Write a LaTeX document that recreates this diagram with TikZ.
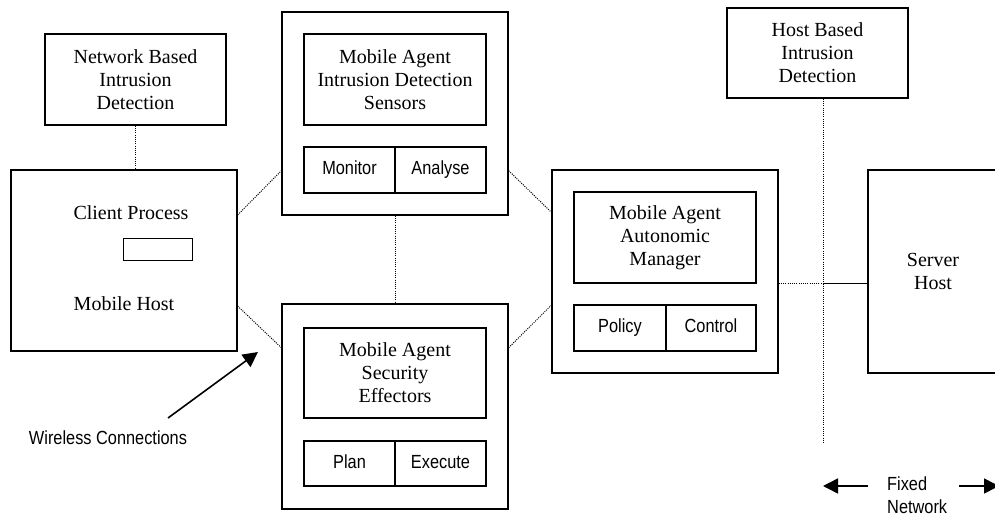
\documentclass[tikz,border=0pt]{standalone}
\usepackage{fontspec}
\setmainfont{Liberation Serif}
\newfontfamily\cellfont[FakeStretch=0.86]{Liberation Sans}
\usetikzlibrary{calc,arrows.meta}
\tikzset{
  txt/.style={inner sep=0pt, align=center, font=\fontsize{20}{23}\selectfont},
  box/.style={txt, draw, line width=1.4pt},
  cell/.style={draw, line width=1.4pt, inner sep=0pt, minimum height=46pt, text height=13.5pt, text depth=4pt, font=\cellfont\fontsize{19}{23}\selectfont},
  note/.style={inner sep=0pt, align=left, font=\cellfont\fontsize{19}{23}\selectfont},
  link/.style={line width=1pt, dash pattern=on 1pt off 1.2pt},
  bigarrow/.style={line width=1.6pt, -{Triangle[length=15pt,width=15pt]}}
}
\begin{document}
\begin{tikzpicture}[x=1pt, y=-1pt]
  \useasboundingbox (0,0) rectangle (995,517);
  \node[box, minimum width=181pt, minimum height=91pt] (nbid) at (135.5,79.5) {Network Based\\Intrusion\\Detection};
  \node[box, minimum width=226pt, minimum height=181pt] (mh) at (124,260.5) {};
  \node[txt] (cp) at (131,213) {Client Process};
  \node[draw, line width=1pt, minimum width=69pt, minimum height=22pt] (proc) at (157.5,249) {};
  \node[txt] (mhl) at (124,304) {Mobile Host};

  \node[box, minimum width=226pt, minimum height=203pt] (sens) at (395,113.5) {};
  \node[box, minimum width=182pt, minimum height=91pt] (sensin) at (395,79.5) {Mobile Agent\\Intrusion Detection\\Sensors};
  \node[cell, minimum width=91pt] (mon) at (349.5,170) {Monitor};
  \node[cell, minimum width=91pt] (ana) at (440.5,170) {Analyse};

  \node[box, minimum width=226pt, minimum height=205pt] (eff) at (395,406.5) {};
  \node[box, minimum width=182pt, minimum height=90pt] (effin) at (395,373) {Mobile Agent\\Security\\Effectors};
  \node[cell, minimum width=91pt, minimum height=45pt] (plan) at (349.5,463.5) {Plan};
  \node[cell, minimum width=91pt, minimum height=45pt] (exec) at (440.5,463.5) {Execute};

  \node[box, minimum width=226pt, minimum height=203pt] (mgr) at (665,271.5) {};
  \node[box, minimum width=182pt, minimum height=91pt] (mgrin) at (665,237.5) {Mobile Agent\\Autonomic\\Manager};
  \node[cell, minimum width=92pt] (pol) at (620,328) {Policy};
  \node[cell, minimum width=90pt] (ctl) at (711,328) {Control};

  \node[box, minimum width=181pt, minimum height=90pt] (hbid) at (817.5,53) {Host Based\\Intrusion\\Detection};
  \node[box, minimum width=130pt, minimum height=203pt] (srv) at (933,271.5) {Server\\Host};

  \draw[link] (nbid.south) -- (nbid.south |- mh.north);
  \draw[link] (sens.south) -- (eff.north);
  \draw[link] ($(mh.north east)!0.25!(mh.south east)$) -- ($(sens.north west)!0.78!(sens.south west)$);
  \draw[link] ($(mh.north east)!0.75!(mh.south east)$) -- ($(eff.north west)!0.215!(eff.south west)$);
  \draw[link] ($(sens.north east)!0.78!(sens.south east)$) -- ($(mgr.north west)!0.21!(mgr.south west)$);
  \draw[link] ($(eff.north east)!0.215!(eff.south east)$) -- ($(mgr.north west)!0.665!(mgr.south west)$);

  \coordinate (netbot) at (823,442);
  \draw[link] (hbid.south -| netbot) -- (netbot);
  \draw[link] (mgr.east |- mgrin.south) -- (mgrin.south -| netbot);
  \draw[line width=1.4pt] (mgrin.south -| netbot) -- (mgrin.south -| srv.west);

  \node[note] (wl) at (108,438) {Wireless Connections};
  \coordinate (wtail) at (168,418);
  \coordinate (wtip) at (258,352);
  \draw[bigarrow] (wtail) -- (wtip);

  \node[note, anchor=west] (fn) at (887,495) {Fixed\\Network};
  \coordinate (fl) at (823,486);
  \coordinate (fr) at (999,486);
  \draw[bigarrow] ([xshift=-19pt]fn.west |- fl) -- (fl);
  \draw[bigarrow] ([xshift=12pt]fn.east |- fr) -- (fr);
\end{tikzpicture}
\end{document}
